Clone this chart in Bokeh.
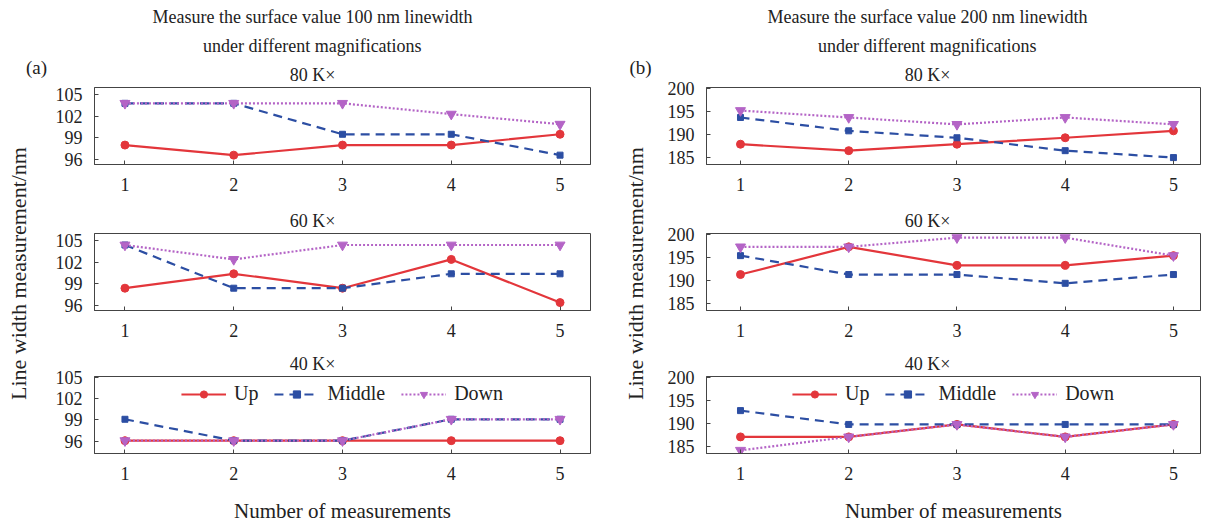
from bokeh.plotting import figure
from bokeh.layouts import row, column
from bokeh.models import FixedTicker, Title, Label, Legend, LegendItem, Range1d
from bokeh.embed import file_html
from bokeh.resources import INLINE

# ---------------- data ----------------
measurements = [1, 2, 3, 4, 5]
mag_labels = ["80 K×", "60 K×", "40 K×"]
series_names = ["Up", "Middle", "Down"]

# (a) 100 nm linewidth
a80_up = [98.0, 96.6, 98.0, 98.0, 99.5]
a80_mid = [103.8, 103.8, 99.5, 99.5, 96.6]
a80_down = [103.8, 103.8, 103.8, 102.3, 100.9]
a60_up = [98.4, 100.4, 98.4, 102.4, 96.4]
a60_mid = [104.4, 98.4, 98.4, 100.4, 100.4]
a60_down = [104.4, 102.4, 104.4, 104.4, 104.4]
a40_up = [96.1, 96.1, 96.1, 96.1, 96.1]
a40_mid = [99.1, 96.1, 96.1, 99.1, 99.1]
a40_down = [96.1, 96.1, 96.1, 99.1, 99.1]
a_ticks = [96, 99, 102, 105]

# (b) 200 nm linewidth
b80_up = [187.9, 186.5, 187.9, 189.3, 190.8]
b80_mid = [193.7, 190.8, 189.3, 186.5, 185.0]
b80_down = [195.2, 193.7, 192.2, 193.7, 192.2]
b60_up = [191.3, 197.3, 193.3, 193.3, 195.4]
b60_mid = [195.4, 191.3, 191.3, 189.4, 191.3]
b60_down = [197.3, 197.3, 199.3, 199.3, 195.4]
b40_up = [187.1, 187.1, 189.8, 187.1, 189.8]
b40_mid = [192.8, 189.8, 189.8, 189.8, 189.8]
b40_down = [184.2, 187.1, 189.8, 187.1, 189.8]
b_ticks = [185, 190, 195, 200]

a_head = ["Measure the surface value 100 nm linewidth", "under different magnifications"]
b_head = ["Measure the surface value 200 nm linewidth", "under different magnifications"]

# ---------------- style ----------------
FONT = "Liberation Serif"
RED = "#e3363b"
BLUE = "#2c4ea3"
PURPLE = "#b464c6"
FRAME = "#444444"
TXT = "#222222"

STYLES = {
    "Up": dict(color=RED, dash="solid", marker="circle", size=8),
    "Middle": dict(color=BLUE, dash="9 6", marker="square", size=6),
    "Down": dict(color=PURPLE, dash="2 2", marker="inverted_triangle", size=10),
}

FRAME_H = 77
TICK_FS = "18px"
TITLE_PX = 18

# Times/Liberation Serif advance widths (1/1000 em), used to centre headings
# a little to the left of the frame centre (Title offset works from the left edge).
_W = {"M": 889, "e": 444, "a": 444, "s": 389, "u": 500, "r": 333, "t": 278, "h": 500,
      "f": 333, "c": 444, "v": 500, "l": 278, "n": 500, "m": 778, "i": 278, "w": 722,
      "d": 500, "g": 500, "o": 500, " ": 250, "K": 722, "×": 564}


def text_w(s, px):
    return sum(_W.get(c, 500) for c in s) / 1000.0 * px


def mk_title(text, standoff, frame_w, shift):
    off = frame_w / 2.0 + shift - text_w(text, TITLE_PX) / 2.0
    return Title(text=text, align="left", offset=off, text_font=FONT,
                 text_font_size=f"{TITLE_PX}px", text_font_style="normal",
                 text_color=TXT, standoff=standoff)


def style_title(t, text, standoff, frame_w, shift):
    t.text = text
    t.align = "left"
    t.offset = frame_w / 2.0 + shift - text_w(text, TITLE_PX) / 2.0
    t.text_font = FONT
    t.text_font_size = f"{TITLE_PX}px"
    t.text_font_style = "normal"
    t.text_color = TXT
    t.standoff = standoff


def panel(mag, series, y_range, y_ticks, x_range, frame_w, bl, br, bt, bb, shift,
          legend=False, xlabel=None, head=None):
    p = figure(frame_width=frame_w, frame_height=FRAME_H,
               x_range=Range1d(*x_range), y_range=Range1d(*y_range),
               min_border_left=bl, min_border_right=br,
               min_border_top=bt, min_border_bottom=bb,
               output_backend="svg", toolbar_location=None)
    p.grid.visible = False
    p.outline_line_color = FRAME
    p.outline_line_width = 1
    p.background_fill_color = "white"
    p.border_fill_color = "white"

    if head:
        # p.title is outermost; titles added later stack outward from the frame
        style_title(p.title, head[0], 7, frame_w, shift)
        p.add_layout(mk_title(mag, 6, frame_w, shift), "above")
        p.add_layout(mk_title(head[1], 7, frame_w, shift), "above")
    else:
        style_title(p.title, mag, 6, frame_w, shift)

    for ax in (p.xaxis, p.yaxis):
        ax.axis_line_color = FRAME
        ax.major_tick_line_color = FRAME
        ax.major_tick_in = 4
        ax.major_tick_out = 0
        ax.minor_tick_in = 0
        ax.minor_tick_out = 0
        ax.major_label_text_font = FONT
        ax.major_label_text_font_size = TICK_FS
        ax.major_label_text_color = TXT
    p.xaxis.ticker = FixedTicker(ticks=measurements)
    p.yaxis.ticker = FixedTicker(ticks=y_ticks)
    p.xaxis.major_label_standoff = 13
    p.yaxis.major_label_standoff = 12
    if xlabel:
        p.xaxis.axis_label = xlabel
        p.xaxis.axis_label_text_font = FONT
        p.xaxis.axis_label_text_font_size = "21px"
        p.xaxis.axis_label_text_font_style = "normal"
        p.xaxis.axis_label_text_color = TXT
        p.xaxis.axis_label_standoff = 16

    items = []
    for name, ys in zip(series_names, series):
        st = STYLES[name]
        r1 = p.line(measurements, ys, line_color=st["color"], line_width=2.2,
                    line_dash=st["dash"])
        r2 = p.scatter(measurements, ys, marker=st["marker"], size=st["size"],
                       fill_color=st["color"], line_color=st["color"])
        items.append(LegendItem(label=name, renderers=[r1, r2]))
    if legend:
        lg = Legend(items=items, location="top_center", orientation="horizontal",
                    label_text_font=FONT, label_text_font_size="20px",
                    label_text_color=TXT, glyph_width=45, glyph_height=18,
                    label_standoff=8, spacing=16, padding=0, margin=6,
                    border_line_color=None, background_fill_alpha=0)
        p.add_layout(lg)
    return p


def label_fig(width, side_text, side_x, tag, tag_x):
    f = figure(width=width, height=523, x_range=Range1d(0, width),
               y_range=Range1d(0, 523), min_border=0, title=None,
               x_axis_location=None, y_axis_location=None,
               output_backend="svg", toolbar_location=None)
    f.grid.visible = False
    f.outline_line_color = None
    f.add_layout(Label(x=side_x, y=250, text=side_text, angle=90, angle_units="deg",
                       text_align="center", text_baseline="middle",
                       text_font=FONT, text_font_size="22px", text_color=TXT))
    f.add_layout(Label(x=tag_x, y=456, text=tag, text_align="center",
                       text_baseline="middle", text_font=FONT,
                       text_font_size="19px", text_color=TXT))
    return f


A_XR = (0.72, 5.28)
B_XR = (0.686, 5.25)
A_YR = [(95.3, 106.0), (95.3, 106.0), (94.3, 105.1)]
B_YR = [(183.5, 200.2), (183.5, 200.2), (183.5, 200.2)]

a_series = [[a80_up, a80_mid, a80_down], [a60_up, a60_mid, a60_down], [a40_up, a40_mid, a40_down]]
b_series = [[b80_up, b80_mid, b80_down], [b60_up, b60_mid, b60_down], [b40_up, b40_mid, b40_down]]

borders = [(87, 40), (29, 36), (30, 69)]

a_figs, b_figs = [], []
for i in range(3):
    bt, bb = borders[i]
    a_figs.append(panel(mag_labels[i], a_series[i], A_YR[i], a_ticks, A_XR, 496, 46, 12, bt, bb, -30,
                        legend=(i == 2), xlabel="Number of measurements" if i == 2 else None,
                        head=a_head if i == 0 else None))
    b_figs.append(panel(mag_labels[i], b_series[i], B_YR[i], b_ticks, B_XR, 494, 46, 2, bt, bb, -26,
                        legend=(i == 2), xlabel="Number of measurements" if i == 2 else None,
                        head=b_head if i == 0 else None))

lab_a = label_fig(48, "Line width measurement/nm", 18, "(a)", 36)
lab_b = label_fig(58, "Line width measurement/nm", 33, "(b)", 38)

layout = row(lab_a, column(*a_figs), lab_b, column(*b_figs))

open("out.html", "w").write(file_html(layout, INLINE))
